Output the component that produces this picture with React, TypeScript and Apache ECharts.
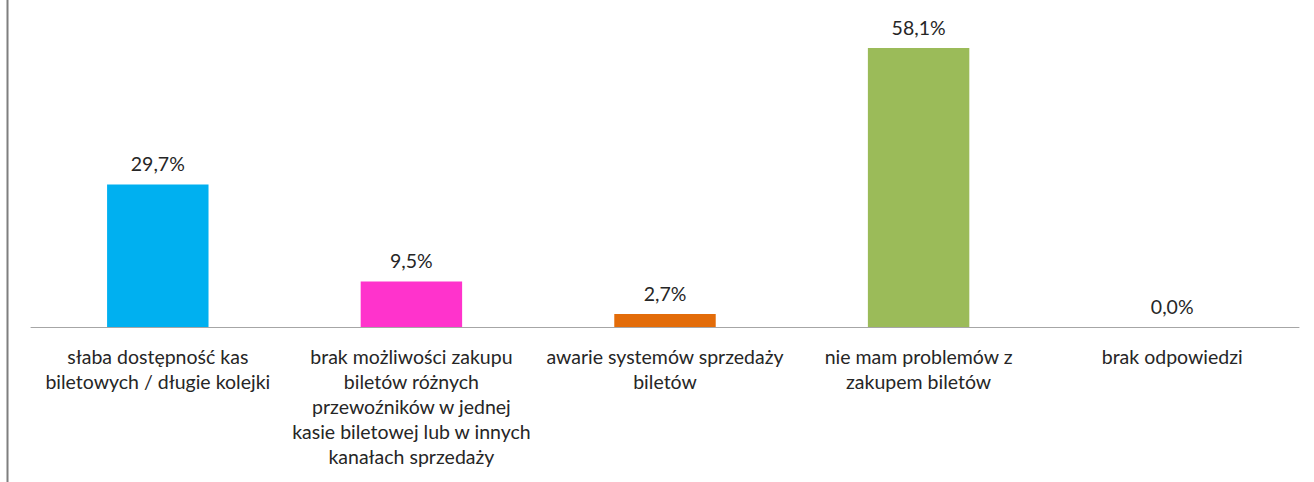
import React, { useEffect, useRef } from "react";
import * as echarts from "echarts";

const categories = [
  "słaba dostępność kas\nbiletowych / długie kolejki",
  "brak możliwości zakupu\nbiletów różnych\nprzewoźników w jednej\nkasie biletowej lub w innych\nkanałach sprzedaży",
  "awarie systemów sprzedaży\nbiletów",
  "nie mam problemów z\nzakupem biletów",
  "brak odpowiedzi",
];
const values = [29.7, 9.5, 2.7, 58.1, 0.0];
const colors = ["#00B0F0", "#FF33CC", "#E36C09", "#9BBB59", "#7F7F7F"];

export default function App() {
  const ref = useRef<HTMLDivElement>(null);
  useEffect(() => {
    if (!ref.current) return;
    const chart = echarts.init(ref.current, undefined, { renderer: "svg" });
    const font = "Lato, 'Open Sans', sans-serif";
    chart.setOption({
      animation: false,
      backgroundColor: "#ffffff",
      grid: { left: 31, right: 15, top: 39, bottom: 155, containLabel: false },
      xAxis: {
        type: "category",
        data: categories,
        axisLine: { lineStyle: { color: "#A6A6A6", width: 1 } },
        axisTick: { show: false },
        axisLabel: {
          interval: 0,
          margin: 17,
          fontSize: 19.5,
          lineHeight: 25,
          color: "#262626",
          fontFamily: font,
        },
      },
      yAxis: {
        type: "value",
        min: 0,
        max: 60,
        show: false,
        splitLine: { show: false },
      },
      series: [
        {
          type: "bar",
          barCategoryGap: "60%",
          data: values.map((v, i) => ({ value: v, itemStyle: { color: colors[i] } })),
          label: {
            show: true,
            position: "top",
            distance: 11,
            fontSize: 19.5,
            color: "#262626",
            fontFamily: font,
            formatter: (p: any) => p.value.toFixed(1).replace(".", ",") + "%",
          },
        },
      ],
      graphic: [
        {
          type: "line",
          shape: { x1: 7.5, y1: 0, x2: 7.5, y2: 482 },
          style: { stroke: "#7F7F7F", lineWidth: 2 },
        },
      ],
    });
    return () => chart.dispose();
  }, []);
  return (
    <div
      ref={ref}
      style={{ position: "fixed", left: 0, top: 0, width: 1314, height: 482 }}
    />
  );
}
